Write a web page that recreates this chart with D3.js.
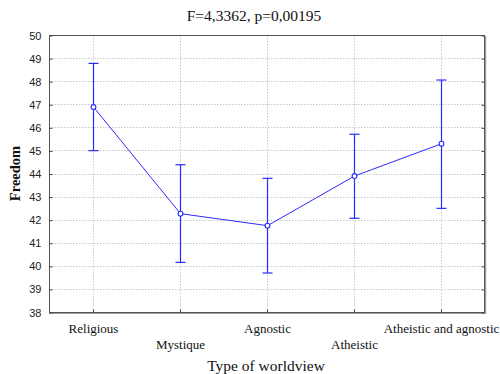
<!DOCTYPE html>
<html>
<head>
<meta charset="utf-8">
<script src="https://cdn.jsdelivr.net/npm/d3@7"></script>
<style>
  html, body { margin: 0; padding: 0; background: #fff; }
  svg { display: block; }
</style>
</head>
<body>
<svg id="chart" width="500" height="374"></svg>
<script>
// Mean Freedom score with confidence intervals by type of worldview
const categories = ["Religious", "Mystique", "Agnostic", "Atheistic", "Atheistic and agnostic"];
const means = [46.88, 42.26, 41.74, 43.89, 45.29];
const upper = [48.77, 44.38, 43.79, 45.70, 48.05];
const lower = [44.99, 40.15, 39.69, 42.06, 42.49];
const yTicks = [38, 39, 40, 41, 42, 43, 44, 45, 46, 47, 48, 49, 50];
const titleText = "F=4,3362, p=0,00195";

const svg = d3.select("#chart");
const m = { left: 49, right: 484, top: 35, bottom: 312 };
const blue = "#2b2bff";
const serif = "Liberation Serif, Times New Roman, serif";

const x = d3.scalePoint().domain(categories).range([m.left, m.right]).padding(0.5);
const y = d3.scaleLinear().domain([38, 50]).range([m.bottom, m.top]);

// grid
const grid = svg.append("g").attr("stroke", "#c8c8c8").attr("stroke-dasharray", "1.5,1.5").attr("stroke-width", 1);
yTicks.slice(1, -1).forEach(t => {
  grid.append("line").attr("x1", m.left).attr("x2", m.right)
    .attr("y1", Math.round(y(t)) + 0.5).attr("y2", Math.round(y(t)) + 0.5);
});
categories.forEach(c => {
  grid.append("line").attr("y1", m.top).attr("y2", m.bottom)
    .attr("x1", Math.round(x(c)) + 0.5).attr("x2", Math.round(x(c)) + 0.5);
});

// frame with a light shadow on the right and bottom
svg.append("line").attr("x1", m.right + 1.5).attr("x2", m.right + 1.5)
  .attr("y1", m.top + 1).attr("y2", m.bottom + 1.5).attr("stroke", "#a0a0a0").attr("stroke-width", 1.5);
svg.append("line").attr("x1", m.left).attr("x2", m.right + 2)
  .attr("y1", m.bottom + 1.5).attr("y2", m.bottom + 1.5).attr("stroke", "#a0a0a0").attr("stroke-width", 1);
svg.append("rect").attr("x", m.left + 0.5).attr("y", m.top + 0.5)
  .attr("width", m.right - m.left).attr("height", m.bottom - m.top)
  .attr("fill", "none").attr("stroke", "#555").attr("stroke-width", 1);

// left axis
const yAxis = d3.axisLeft(y).tickValues(yTicks).tickSize(-3).tickPadding(8).tickFormat(d3.format("d"));
const gy = svg.append("g").attr("transform", `translate(${m.left + 0.5},0.5)`).call(yAxis);
gy.select(".domain").remove();
gy.selectAll("line").attr("stroke", "#444");
gy.selectAll("text").attr("font-family", "Liberation Sans, Arial, sans-serif").attr("font-size", 11).attr("fill", "#222");

// right ticks
const gr = svg.append("g").attr("transform", `translate(${m.right + 0.5},0.5)`)
  .call(d3.axisRight(y).tickValues(yTicks).tickSize(-3).tickFormat(""));
gr.select(".domain").remove();
gr.selectAll("line").attr("stroke", "#444");

// bottom axis, labels staggered on two rows
const xAxis = d3.axisBottom(x).tickSize(-3).tickPadding(11);
const gx = svg.append("g").attr("transform", `translate(0.5,${m.bottom + 0.5})`).call(xAxis);
gx.select(".domain").remove();
gx.selectAll("line").attr("stroke", "#444");
gx.selectAll("text")
  .attr("font-family", serif)
  .attr("font-size", 13).attr("fill", "#111")
  .attr("dy", (d, i) => i % 2 === 1 ? "1.95em" : "0.71em");

// error bars
const eb = svg.append("g").attr("stroke", blue).attr("stroke-width", 1.2);
categories.forEach((c, i) => {
  const cx = Math.round(x(c)) + 0.5;
  eb.append("line").attr("x1", cx).attr("x2", cx).attr("y1", y(upper[i])).attr("y2", y(lower[i]));
  eb.append("line").attr("x1", cx - 5).attr("x2", cx + 5).attr("y1", y(upper[i])).attr("y2", y(upper[i]));
  eb.append("line").attr("x1", cx - 5).attr("x2", cx + 5).attr("y1", y(lower[i])).attr("y2", y(lower[i]));
});

// mean line
const line = d3.line().x((d, i) => Math.round(x(categories[i])) + 0.5).y(d => y(d));
svg.append("path").datum(means).attr("d", line)
  .attr("fill", "none").attr("stroke", blue).attr("stroke-width", 1);

svg.append("g").selectAll("circle").data(means).join("circle")
  .attr("cx", (d, i) => Math.round(x(categories[i])) + 0.5)
  .attr("cy", d => y(d)).attr("r", 2.4)
  .attr("fill", "#fff").attr("stroke", blue).attr("stroke-width", 1.1);

// titles
svg.append("text").attr("x", 254).attr("y", 21).attr("text-anchor", "middle")
  .attr("font-family", serif).attr("font-size", 15.5).attr("fill", "#111")
  .text(titleText);

svg.append("text").attr("x", 266).attr("y", 371).attr("text-anchor", "middle")
  .attr("font-family", serif).attr("font-size", 15.5).attr("fill", "#111")
  .text("Type of worldview");

svg.append("text").attr("transform", `translate(20,${(m.top + m.bottom) / 2}) rotate(-90)`)
  .attr("text-anchor", "middle")
  .attr("font-family", serif).attr("font-size", 14.5)
  .attr("font-weight", "bold").attr("fill", "#111")
  .text("Freedom");
</script>
</body>
</html>
